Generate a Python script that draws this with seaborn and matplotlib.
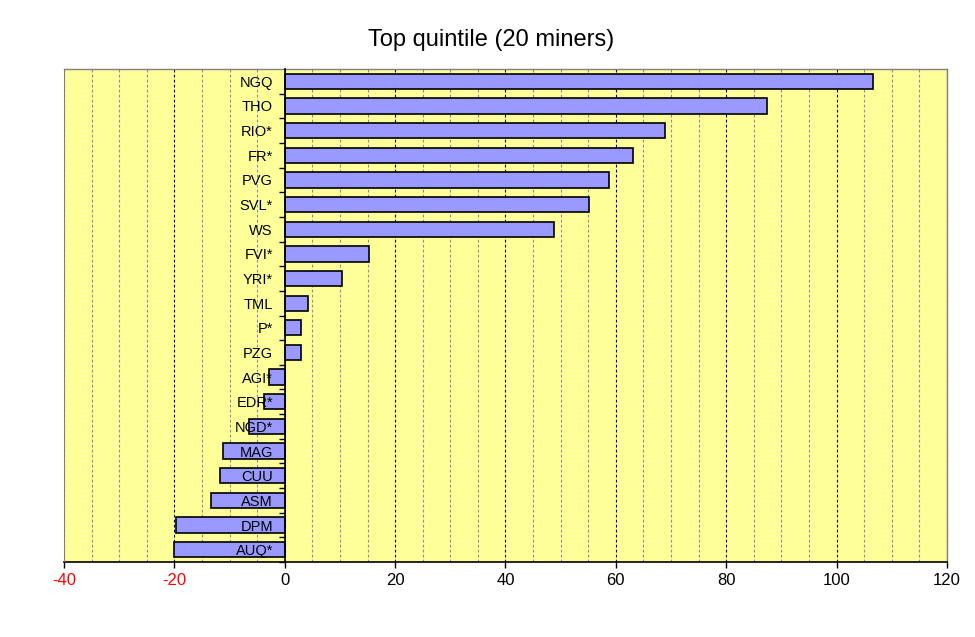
import numpy as np
import pandas as pd
import matplotlib
matplotlib.use('Agg')
import matplotlib.pyplot as plt
import seaborn as sns
from matplotlib.ticker import MultipleLocator

### Data ###
miners = ['NGQ', 'THO', 'RIO*', 'FR*', 'PVG', 'SVL*', 'WS', 'FVI*', 'YRI*', 'TML',
          'P*', 'PZG', 'AGI*', 'EDR*', 'NGD*', 'MAG', 'CUU', 'ASM', 'DPM', 'AUQ*']
change = [106.5, 87.4, 68.9, 63.1, 58.8, 55.1, 48.8, 15.3, 10.4, 4.3,
          3.0, 3.0, -2.8, -3.8, -6.5, -11.2, -11.8, -13.4, -19.7, -20.1]
xticks = [-40, -20, 0, 20, 40, 60, 80, 100, 120]

df = pd.DataFrame({'miner': miners, 'change': change})

sns.set_style('white')
plt.rcParams['font.family'] = ['Liberation Sans', 'DejaVu Sans']
plt.rcParams['axes.unicode_minus'] = False
plt.rcParams['text.color'] = 'black'
plt.rcParams['xtick.color'] = 'black'
plt.rcParams['ytick.color'] = 'black'

fig = plt.figure(figsize=(9.75, 6.37), dpi=100)
ax = fig.add_axes([0.0656, 0.1177, 0.9057, 0.774])
ax.set_facecolor('#FFFF99')

sns.barplot(data=df, x='change', y='miner', orient='h', color='#9999FF',
            saturation=1, edgecolor='black', linewidth=1.2, width=0.62, ax=ax, zorder=3)

ax.set_xlim(-40, 120)
ax.set_ylim(19.5, -0.5)
ax.set_xticks(xticks)
ax.xaxis.set_minor_locator(MultipleLocator(5))

# grid: black dashed every 20, grey dashed every 5
ax.grid(which='minor', axis='x', color='#8c8c9c', ls=(0, (2.5, 2)), lw=0.8)
ax.grid(which='major', axis='x', color='black', ls=(0, (2.5, 2)), lw=0.8)
ax.set_axisbelow(True)
# ticker labels must sit on top of the bars
ax.yaxis.set_zorder(5)

# y axis sits at x=0, labels just left of it, ticks between categories
ax.spines['left'].set_position(('data', 0))
ax.spines['left'].set_color('black')
ax.spines['left'].set_linewidth(1.2)
ax.spines['left'].set_zorder(4)
ax.set_yticks(np.arange(len(miners)) + 0.5, minor=True)
ax.tick_params(axis='y', which='major', length=0, pad=8.5, labelsize=10.5, labelcolor='black')
ax.tick_params(axis='y', which='minor', left=True, length=4, width=1, color='black')

ax.tick_params(axis='x', which='major', bottom=True, length=4, width=1, color='black',
               labelsize=12, pad=4)
ax.tick_params(axis='x', which='minor', bottom=False, length=0)
ax.spines['bottom'].set_color('black')
ax.spines['bottom'].set_linewidth(1.2)
for s in ['top', 'right']:
    ax.spines[s].set_color('#808080')
    ax.spines[s].set_linewidth(1)
ax.axvline(-40, color='#808080', lw=1.5, zorder=5)

for lbl, v in zip(ax.get_xticklabels(), xticks):
    lbl.set_color('red' if v < 0 else 'black')

ax.set_xlabel('')
ax.set_ylabel('')

fig.text(0.5036, 0.937, 'Top quintile (20 miners)', ha='center', va='center',
         fontsize=17, color='black')

fig.savefig('out.png', dpi=100)
